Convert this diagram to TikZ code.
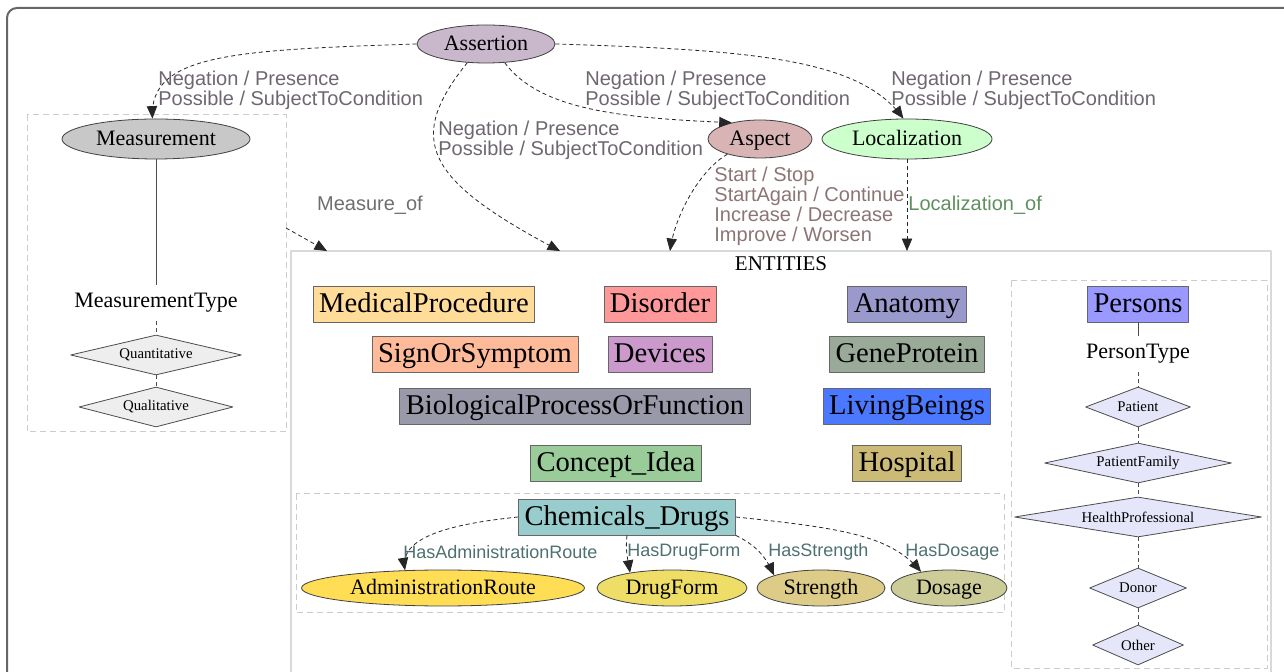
\documentclass[tikz,border=0pt]{standalone}
\usepackage{fontspec}
\setmainfont{Liberation Serif}
\newfontfamily\sansfam{Liberation Sans}
\usepackage{tikz}
\usetikzlibrary{arrows,shapes.geometric}

\definecolor{cAssert}{HTML}{C9B7CB}
\definecolor{cMeas}{HTML}{C8C8C8}
\definecolor{cAspect}{HTML}{D9B4B4}
\definecolor{cLoc}{HTML}{CCFFCC}
\definecolor{cMedProc}{HTML}{FFDD99}
\definecolor{cDisorder}{HTML}{FF9999}
\definecolor{cSign}{HTML}{FFBB99}
\definecolor{cDevices}{HTML}{CC99CC}
\definecolor{cBio}{HTML}{9999AA}
\definecolor{cConcept}{HTML}{99CC99}
\definecolor{cAnatomy}{HTML}{9999CC}
\definecolor{cGene}{HTML}{99AA99}
\definecolor{cLiving}{HTML}{4A78FF}
\definecolor{cHospital}{HTML}{CCBB77}
\definecolor{cPersons}{HTML}{9999FF}
\definecolor{cChem}{HTML}{99CCCC}
\definecolor{cRoute}{HTML}{FFDD55}
\definecolor{cForm}{HTML}{EEDD66}
\definecolor{cStrength}{HTML}{DDCC88}
\definecolor{cDosage}{HTML}{CCCC99}
\definecolor{cKindL}{HTML}{EEEEEE}
\definecolor{cKindR}{HTML}{E6E6FA}
\definecolor{tNeg}{HTML}{6E6670}
\definecolor{tAspect}{HTML}{8C7474}
\definecolor{tLoc}{HTML}{5F8F5F}
\definecolor{tMeas}{HTML}{6E6E6E}
\definecolor{tChem}{HTML}{4F7070}

\tikzset{
  attr/.style={ellipse, draw=black!75, line width=0.4pt, inner sep=0pt, minimum height=18pt, text height=7pt, text depth=0pt, font=\fontsize{11}{13}\selectfont},
  ent/.style={rectangle, draw=black!60, line width=0.4pt, inner xsep=3pt, inner ysep=0pt, minimum height=18pt, text height=9pt, text depth=0pt, font=\fontsize{14.3}{16}\selectfont},
  kind/.style={diamond, aspect=4, draw=black!70, line width=0.4pt, inner sep=0pt, minimum height=20pt, font=\fontsize{7.4}{8}\selectfont},
  rel/.style={->, dash pattern=on 2pt off 1.5pt, black!85, line width=0.4pt},
  link/.style={black!70, line width=0.4pt},
  dlink/.style={black!70, line width=0.4pt, dash pattern=on 2pt off 1.5pt},
  lbl/.style={inner sep=0pt, align=left, font=\sansfam\fontsize{10}{10}\selectfont},
  group/.style={draw=black!20, dash pattern=on 3pt off 2pt, line width=0.5pt},
}

\begin{document}
\begin{tikzpicture}[x=0.5pt,y=-0.5pt,>=triangle 45,line join=round]
\useasboundingbox (0,0) rectangle (1284,672);
\clip (0,0) rectangle (1284,672);
% frame and boxes
\draw[black!60, line width=1pt, rounded corners=5pt] (7,8) rectangle (1330,730);
\draw[black!15, line width=0.6pt] (291,251) rectangle (1271,730);
\node[font=\fontsize{10.5}{12}\selectfont] (enttitle) at (781,264) {ENTITIES};
\draw[group] (27,115) rectangle (286,432);
\draw[group] (296,494) rectangle (1004,613);
\draw[group] (1011,281) rectangle (1267,668);
\coordinate (measbox) at (286,228);
\coordinate (entA) at (327,251);
\coordinate (entB) at (560,251);
\coordinate (entC) at (670,251);
\coordinate (entD) at (907,251);

% top ellipses
\node[attr, fill=cAssert, minimum width=69pt, minimum height=19pt] (assertion) at (486,44) {Assertion};
\node[attr, fill=cMeas, minimum width=94pt, minimum height=20pt] (measurement) at (156,139) {Measurement};
\node[attr, fill=cAspect, minimum width=52pt, minimum height=19pt] (aspect) at (760,139) {Aspect};
\node[attr, fill=cLoc, minimum width=85pt, minimum height=20pt] (localization) at (907,139) {Localization};

% measurement types
\node[inner sep=4pt, font=\fontsize{11}{13}\selectfont] (meastype) at (156,303) {MeasurementType};
\node[kind, fill=cKindL, minimum width=85.5pt] (quant) at (156,355) {Quantitative};
\node[kind, fill=cKindL, minimum width=77pt] (qual) at (156,407) {Qualitative};
\draw[link] (measurement.south) -- (meastype.north);
\draw[dlink] (meastype.south) -- (quant.north);
\draw[dlink] (quant.south) -- (qual.north);

% entities
\node[ent, fill=cMedProc] (medproc) at (424,304) {MedicalProcedure};
\node[ent, fill=cDisorder] (disorder) at (660,304) {Disorder};
\node[ent, fill=cSign] (sign) at (475,354) {SignOrSymptom};
\node[ent, fill=cDevices] (devices) at (660,354) {Devices};
\node[ent, fill=cBio] (bio) at (575,406) {BiologicalProcessOrFunction};
\node[ent, fill=cConcept] (concept) at (616,463) {Concept\_Idea};
\node[ent, fill=cAnatomy] (anatomy) at (907,304) {Anatomy};
\node[ent, fill=cGene] (gene) at (907,354) {GeneProtein};
\node[ent, fill=cLiving] (living) at (907,406) {LivingBeings};
\node[ent, fill=cHospital] (hospital) at (907,463) {Hospital};
\node[ent, fill=cChem] (chem) at (627,517) {Chemicals\_Drugs};

% drug attributes
\node[attr, fill=cRoute, minimum width=141.5pt] (route) at (443,588) {AdministrationRoute};
\node[attr, fill=cForm, minimum width=75pt] (form) at (672,588) {DrugForm};
\node[attr, fill=cStrength, minimum width=64pt] (strength) at (821,588) {Strength};
\node[attr, fill=cDosage, minimum width=58pt] (dosage) at (949,588) {Dosage};

% persons
\node[ent, fill=cPersons] (persons) at (1138,304) {Persons};
\node[inner sep=4pt, font=\fontsize{11}{13}\selectfont] (persontype) at (1138,354) {PersonType};
\node[kind, fill=cKindR, minimum width=52.5pt] (patient) at (1138,407) {Patient};
\node[kind, fill=cKindR, minimum width=93.5pt] (family) at (1138,463) {PatientFamily};
\node[kind, fill=cKindR, minimum width=123.5pt] (healthpro) at (1138,517) {HealthProfessional};
\node[kind, fill=cKindR, minimum width=48.5pt] (donor) at (1138,588) {Donor};
\node[kind, fill=cKindR, minimum width=45.5pt] (other) at (1138,645) {Other};
\draw[link] (persons.south) -- (persontype.north);
\draw[dlink] (persontype.south) -- (patient.north);
\draw[dlink] (patient.south) -- (family.north);
\draw[dlink] (family.south) -- (healthpro.north);
\draw[dlink] (healthpro.south) -- (donor.north);
\draw[dlink] (donor.south) -- (other.north);

% assertion edges
\draw[rel] (assertion.west) .. controls (230,50) and (150,55) .. (measurement.100);
\draw[rel] (assertion.225) .. controls (405,140) and (425,180) .. (entB);
\draw[rel] (assertion.315) .. controls (540,110) and (620,118) .. (aspect.150);
\draw[rel] (assertion.east) .. controls (760,50) and (860,60) .. (localization.100);
\node[lbl, text=tNeg, anchor=north west] (negmeas) at (158,71) {Negation / Presence\\Possible / SubjectToCondition};
\node[lbl, text=tNeg, anchor=north west] (negent) at (438,121) {Negation / Presence\\Possible / SubjectToCondition};
\node[lbl, text=tNeg, anchor=north west] (negasp) at (585,71) {Negation / Presence\\Possible / SubjectToCondition};
\node[lbl, text=tNeg, anchor=north west] (negloc) at (891,71) {Negation / Presence\\Possible / SubjectToCondition};

% aspect, localization, measurement edges
\draw[rel] (aspect.205) .. controls (700,170) and (675,215) .. (entC);
\node[lbl, text=tAspect, anchor=north west] (aspectvals) at (714,167) {Start / Stop\\StartAgain / Continue\\Increase / Decrease\\Improve / Worsen};
\draw[rel] (localization.south) -- (entD);
\node[lbl, text=tLoc, anchor=west] (locof) at (908,205) {Localization\_of};
\draw[rel] (measbox) -- (entA);
\node[lbl, text=tMeas] (measof) at (370,205) {Measure\_of};

% drug edges
\draw[rel] (chem.west) .. controls (440,525) and (400,540) .. (route.155);
\draw[rel] (chem.south) .. controls (625,550) and (628,560) .. (form.160);
\draw[rel] (chem.south east) .. controls (755,545) and (765,555) .. (strength.165);
\draw[rel] (chem.east) .. controls (840,528) and (890,535) .. (dosage.150);
\node[lbl, text=tChem, anchor=west, font=\sansfam\fontsize{9}{9}\selectfont] (hasroute) at (403,552) {HasAdministrationRoute};
\node[lbl, text=tChem, anchor=west, font=\sansfam\fontsize{9}{9}\selectfont] (hasform) at (627,552) {HasDrugForm};
\node[lbl, text=tChem, anchor=west, font=\sansfam\fontsize{9}{9}\selectfont] (hasstrength) at (768,552) {HasStrength};
\node[lbl, text=tChem, anchor=west, font=\sansfam\fontsize{9}{9}\selectfont] (hasdosage) at (905,552) {HasDosage};
\end{tikzpicture}
\end{document}
